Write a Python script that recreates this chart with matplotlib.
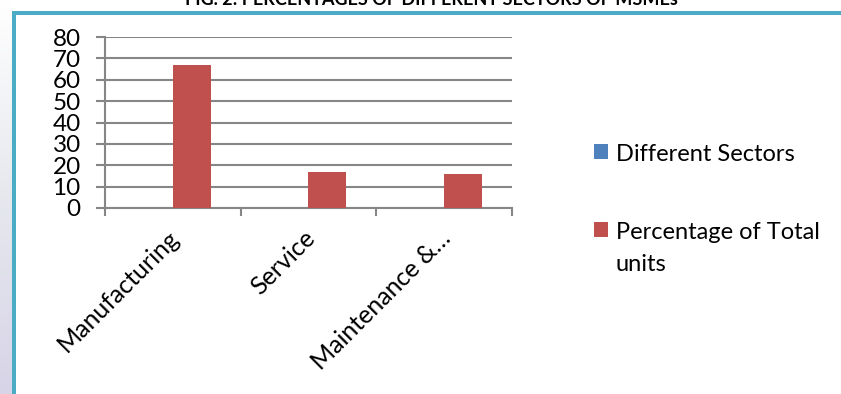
#!/usr/bin/env python3
"""
Fig. 2: percentages of different sectors of MSMEs (clustered bar, Excel style).
"""

import numpy as np
import matplotlib
matplotlib.use('Agg')
import matplotlib.pyplot as plt
from matplotlib.patches import Rectangle

# data
sectors = ['Manufacturing', 'Service', 'Maintenance &…']
different_sectors = [0, 0, 0]          # text column in the source sheet, plots as nothing
pct_total_units = [67, 17, 16]
series_names = ['Different Sectors', 'Percentage of Total\nunits']
yticks = list(range(0, 81, 10))

BLUE = '#4F81BD'
RED = '#C0504D'
GRID = '#868686'
FRAME = '#4BACC6'

plt.rcParams['font.family'] = ['Lato', 'DejaVu Sans']

fig = plt.figure(figsize=(8.41, 3.94), dpi=100)
W, H = 841, 394

# light gradient strip left of the frame
bg = fig.add_axes([0, 0, 12 / W, 1], zorder=0)
grad = np.linspace(0, 1, 256).reshape(-1, 1)
bg.imshow(grad, aspect='auto', cmap=matplotlib.colors.LinearSegmentedColormap.from_list(
    'g', ['#D8D4E8', '#E6E8EE', '#FFFFFF']), origin='lower', extent=[0, 1, 0, 1])
bg.axis('off')

# teal frame (top + left edge, the rest is cut off)
fig.patches.append(Rectangle((12 / W, 1 - 15 / H), 1 - 12 / W, 4 / H,
                             transform=fig.transFigure, facecolor=FRAME,
                             edgecolor='none', zorder=2))
fig.patches.append(Rectangle((12 / W, 0), 4 / W, 1 - 11 / H,
                             transform=fig.transFigure, facecolor=FRAME,
                             edgecolor='none', zorder=2))

# title, clipped at the top of the image
fig.text(431 / W, 1 - 5 / H, 'FIG. 2: PERCENTAGES OF DIFFERENT SECTORS OF MSMEs',
         fontsize=13, weight='bold', ha='center', va='baseline')

ax = fig.add_axes([105 / W, 1 - 208 / H, (512 - 105) / W, (208 - 37) / H])

x = np.arange(len(sectors))
w = 0.28
b1 = ax.bar(x - w / 2, different_sectors, w, color=BLUE, label=series_names[0], zorder=3)
b2 = ax.bar(x + w / 2, pct_total_units, w, color=RED, label=series_names[1], zorder=3)

ax.set_xlim(-0.5, len(sectors) - 0.5)
ax.set_ylim(0, 80)
ax.set_yticks(yticks)
ax.tick_params(axis='y', length=6.5, width=1.5, color=GRID, pad=11, labelsize=17.5)
ax.yaxis.grid(True, color=GRID, linewidth=1.5)
ax.set_axisbelow(True)

# category boundary ticks, labels at centres
ax.set_xticks(np.arange(-0.5, len(sectors), 1.0))
ax.set_xticklabels([])
ax.tick_params(axis='x', which='major', length=6, width=1.5, color=GRID, direction='out')
ax.set_xticks(x, minor=True)
ax.set_xticklabels(sectors, minor=True, rotation=45, ha='right',
                   rotation_mode='anchor', fontsize=18)
ax.tick_params(axis='x', which='minor', length=0, pad=13)
for lbl in ax.get_xticklabels(minor=True):
    lbl.set_transform(lbl.get_transform() +
                      matplotlib.transforms.ScaledTranslation(-4 / 72, 0, fig.dpi_scale_trans))

for s in ['top', 'right']:
    ax.spines[s].set_visible(False)
for s in ['left', 'bottom']:
    ax.spines[s].set_color(GRID)
    ax.spines[s].set_linewidth(1.5)

leg = ax.legend(handles=[b1, b2], loc='upper left', bbox_to_anchor=(573 / W, 1 - 123 / H),
                bbox_transform=fig.transFigure, frameon=False, fontsize=17,
                handlelength=0.6, handleheight=0.6, handletextpad=0.3,
                labelspacing=2.4)
for t in leg.get_texts():
    t.set_linespacing(1.65)
# square beside the first line of a wrapped label, as Excel does
for col in leg._legend_handle_box.get_children():
    for item in col.get_children():
        item.align = 'top'

plt.savefig('out.png', dpi=100)
plt.close()
print("Created out.png")
